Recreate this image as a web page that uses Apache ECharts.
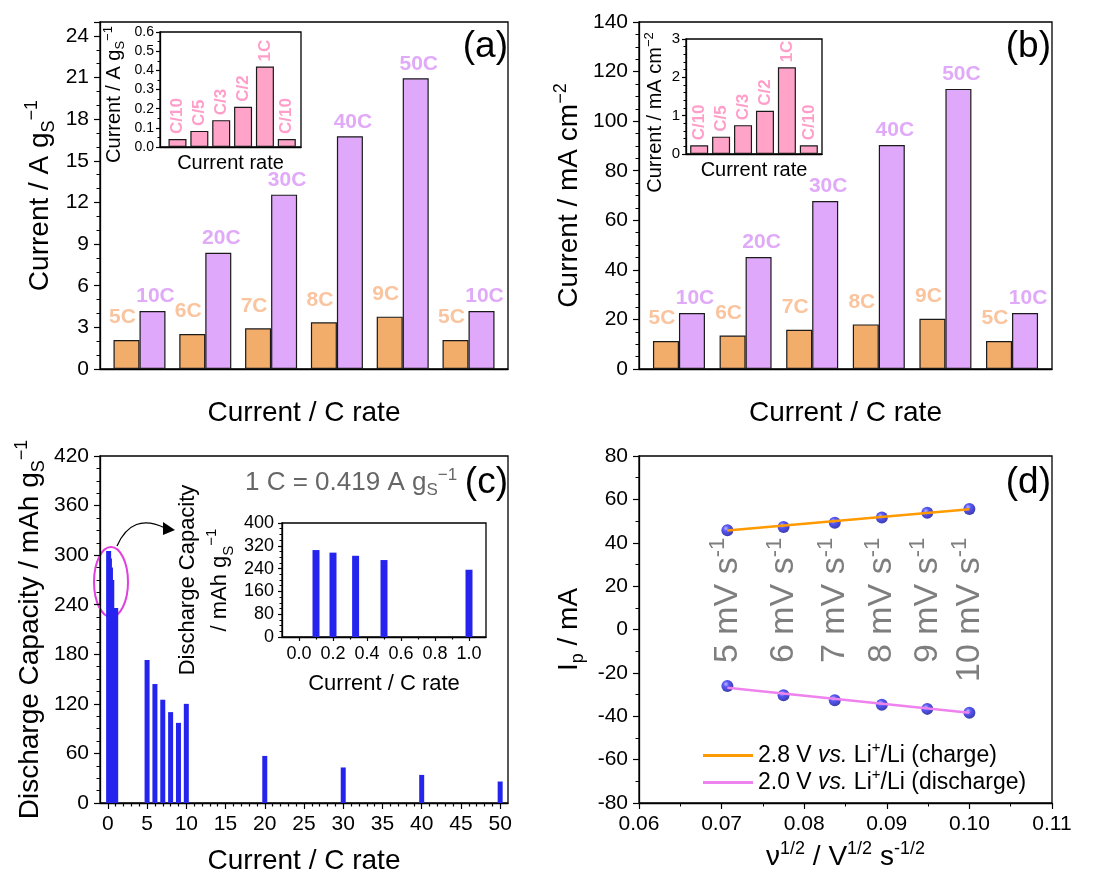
<!DOCTYPE html>
<html>
<head>
<meta charset="utf-8">
<script src="https://cdn.jsdelivr.net/npm/echarts@6/dist/echarts.min.js"></script>
<style>
html, body { margin: 0; padding: 0; background: #fff; }
#chart { width: 1095px; height: 870px; }
</style>
</head>
<body>
<div id="chart"></div>
<script>
// ---- data ----
const groupPos = [1, 2, 3, 4, 5, 6];
const lowRateLabels = ['5C', '6C', '7C', '8C', '9C', '5C'];
const highRateLabels = ['10C', '20C', '30C', '40C', '50C', '10C'];
const lowRateCurrentA = [2.09, 2.52, 2.93, 3.36, 3.77, 2.09];       // A g-1
const highRateCurrentA = [4.18, 8.38, 12.56, 16.77, 20.95, 4.18];
const lowRateCurrentB = [11.3, 13.5, 15.8, 18.0, 20.3, 11.3];       // mA cm-2
const highRateCurrentB = [22.6, 45.2, 67.8, 90.4, 113.0, 22.6];
const slowRateLabels = ['C/10', 'C/5', 'C/3', 'C/2', '1C', 'C/10'];
const slowCurrentA = [0.042, 0.084, 0.14, 0.21, 0.42, 0.042];
const slowCurrentB = [0.226, 0.452, 0.753, 1.13, 2.26, 0.226];

const cRate = [0.1, 0.2, 0.333, 0.5, 1, 5, 6, 7, 8, 9, 10, 20, 30, 40, 50];
const capacity = [305, 296, 285, 270, 236, 173, 144, 125, 110, 97, 120, 57, 43, 34, 26];

const sqrtScan = [0.0707, 0.0775, 0.0837, 0.0894, 0.0949, 0.1];
const chargePeak = [45.8, 47.3, 49.2, 51.6, 53.8, 55.6];
const dischargePeak = [-26.0, -30.3, -32.6, -34.7, -36.6, -38.4];
const scanRateLabels = ['5', '6', '7', '8', '9', '10'];
const fitX = [0.0707, 0.1];
const chargeFitY = [45.6, 55.4];
const dischargeFitY = [-26.9, -38.4];

const cTicksMajor = [0, 5, 10, 15, 20, 25, 30, 35, 40, 45, 50];
const cTicksMinor = [1, 2, 3, 4, 6, 7, 8, 9, 11, 12, 13, 14, 16, 17, 18, 19, 21, 22, 23, 24, 26, 27, 28, 29,
    31, 32, 33, 34, 36, 37, 38, 39, 41, 42, 43, 44, 46, 47, 48, 49];
const insetTicksMajor = [0, 0.2, 0.4, 0.6, 0.8, 1.0];
const insetTicksMinor = [0.1, 0.3, 0.5, 0.7, 0.9];

const chargeName = '2.8 V vs. Li+/Li (charge)';
const dischargeName = '2.0 V vs. Li+/Li (discharge)';

// ---- styling helpers ----
const FONT = 'Liberation Sans, Arial, sans-serif';
const ORANGE = '#F3AD6B', PURPLE = '#DFA8FA', PINK = '#FFA3C8', BLUE = '#2424EE';

function merge(a, b) {
    const out = Object.assign({}, a);
    for (const k in b) {
        if (b[k] && typeof b[k] === 'object' && !Array.isArray(b[k]) && a[k] && typeof a[k] === 'object') out[k] = merge(a[k], b[k]);
        else out[k] = b[k];
    }
    return out;
}

function rich(size, color) {
    const s = Math.round(size * 0.66);
    return {
        sub: { fontSize: s, lineHeight: s, verticalAlign: 'bottom', color: color, fontFamily: FONT },
        sup: { fontSize: s, lineHeight: s, verticalAlign: 'top', color: color, fontFamily: FONT },
        i: { fontSize: size, fontStyle: 'italic', color: color, fontFamily: FONT }
    };
}

const baseAxis = {
    type: 'value',
    splitLine: { show: false },
    axisLine: { show: true, onZero: false, lineStyle: { color: '#000', width: 1.3 } },
    axisTick: { show: true, length: 6, lineStyle: { color: '#000', width: 1.2 } },
    minorTick: { show: false, length: 3.5, lineStyle: { color: '#000', width: 1 } },
    axisLabel: { color: '#000', fontSize: 21, margin: 11, fontFamily: FONT },
    nameLocation: 'middle',
    nameTextStyle: { color: '#000', fontSize: 28, fontFamily: FONT, lineHeight: 35, rich: rich(28, '#000') }
};
const insetAxis = merge(baseAxis, {
    axisTick: { length: 4 },
    minorTick: { length: 2.5 },
    axisLabel: { fontSize: 14, margin: 6 },
    nameTextStyle: { fontSize: 20, lineHeight: 25, rich: rich(20, '#000') }
});
const ax = o => merge(baseAxis, o);
const ix = o => merge(insetAxis, o);

const frame = { show: true, borderColor: '#000', borderWidth: 1.3, outerBoundsMode: 'none' };

function barLabel(names, color, lift, shift) {
    return { show: true, position: 'top', distance: lift, offset: [shift, 0], formatter: p => names[p.dataIndex],
        color: color, fontSize: 21, fontWeight: 'bold', fontFamily: FONT };
}
function rotLabel(names) {
    return { show: true, position: 'top', distance: 5, rotate: 90, align: 'left', verticalAlign: 'middle',
        formatter: p => names[p.dataIndex], color: '#FF9EC9', fontSize: 17, fontWeight: 'bold', fontFamily: FONT };
}
const barBorder = { borderColor: '#1a1a1a', borderWidth: 1.2 };
const pts = (xs, ys) => xs.map((x, i) => [x, ys[i]]);

const sphere = {
    type: 'radial', x: 0.38, y: 0.35, r: 0.7,
    colorStops: [{ offset: 0, color: '#a8a8ff' }, { offset: 0.35, color: '#2c2cf0' }, { offset: 1, color: '#0a0a96' }]
};

const option = {
    animation: false,
    backgroundColor: '#fff',
    textStyle: { fontFamily: FONT },
    grid: [
        merge(frame, { left: 100, top: 22, width: 408, height: 347 }),   // a
        merge(frame, { left: 160, top: 32, width: 141, height: 115 }),   // a inset
        merge(frame, { left: 639, top: 22, width: 413, height: 347 }),   // b
        merge(frame, { left: 686, top: 39, width: 136, height: 115 }),   // b inset
        merge(frame, { left: 100, top: 456, width: 408, height: 347 }),  // c
        merge(frame, { left: 282, top: 523, width: 204, height: 114 }),  // c inset
        merge(frame, { left: 639, top: 456, width: 413, height: 347 })   // d
    ],
    xAxis: [
        ax({ gridIndex: 0, min: 0.4, max: 6.6, axisTick: { show: false }, axisLabel: { show: false },
            name: 'Current / C rate', nameGap: 27 }),
        ix({ gridIndex: 1, min: 0.2, max: 6.65, axisTick: { show: false }, axisLabel: { show: false },
            name: 'Current rate', nameGap: 4 }),
        ax({ gridIndex: 2, min: 0.4, max: 6.6, axisTick: { show: false }, axisLabel: { show: false },
            name: 'Current / C rate', nameGap: 27 }),
        ix({ gridIndex: 3, min: 0.4, max: 6.6, axisTick: { show: false }, axisLabel: { show: false },
            name: 'Current rate', nameGap: 4 }),
        ax({ gridIndex: 4, min: -1, max: 51, position: 'bottom',
            axisTick: { customValues: cTicksMajor }, axisLabel: { customValues: cTicksMajor },
            name: 'Current / C rate', nameGap: 41 }),
        ax({ gridIndex: 4, min: -1, max: 51, position: 'bottom', axisLine: { show: false },
            axisTick: { length: 3.5, customValues: cTicksMinor }, axisLabel: { show: false } }),
        ix({ gridIndex: 5, min: -0.1, max: 1.1, position: 'bottom',
            axisTick: { customValues: insetTicksMajor },
            axisLabel: { fontSize: 18, margin: 8, customValues: insetTicksMajor, formatter: v => v.toFixed(1) },
            name: 'Current / C rate', nameGap: 34, nameTextStyle: { fontSize: 22, rich: rich(22, '#000') } }),
        ix({ gridIndex: 5, min: -0.1, max: 1.1, position: 'bottom', axisLine: { show: false },
            axisTick: { length: 2.5, customValues: insetTicksMinor }, axisLabel: { show: false } }),
        ax({ gridIndex: 6, min: 0.06, max: 0.11, interval: 0.01, minorTick: { show: true, splitNumber: 2 },
            axisLabel: { formatter: v => v.toFixed(2) },
            name: 'ν{sup|1/2} / V{sup|1/2} s{sup|-1/2}', nameGap: 37 })
    ],
    yAxis: [
        ax({ gridIndex: 0, min: 0, max: 25, interval: 3, minorTick: { show: true, splitNumber: 3 },
            axisLabel: { showMaxLabel: false }, name: 'Current / A g{sub|S}{sup|−1}', nameGap: 42 }),
        ix({ gridIndex: 1, min: 0, max: 0.6, interval: 0.1, minorTick: { show: true, splitNumber: 2 },
            axisLabel: { formatter: v => v.toFixed(1) }, name: 'Current / A g{sub|S}{sup|−1}', nameGap: 33,
            nameTextStyle: { padding: [0, 10, 0, 0] } }),
        ax({ gridIndex: 2, min: 0, max: 140, interval: 20, minorTick: { show: true, splitNumber: 4 },
            name: 'Current / mA cm{sup|−2}', nameGap: 52 }),
        ix({ gridIndex: 3, min: 0, max: 3, interval: 1, minorTick: { show: true, splitNumber: 5 },
            axisLabel: { fontSize: 15 }, name: 'Current / mA cm{sup|−2}', nameGap: 18,
            nameTextStyle: { padding: [0, 32, 0, 0] } }),
        ax({ gridIndex: 4, min: 0, max: 420, interval: 60, minorTick: { show: true, splitNumber: 4 },
            name: 'Discharge Capacity / mAh g{sub|S}{sup|−1}', nameGap: 52 }),
        ix({ gridIndex: 5, min: 0, max: 400, interval: 80, minorTick: { show: true, splitNumber: 4 },
            axisLabel: { fontSize: 18, margin: 8 },
            name: 'Discharge Capacity\n/ mAh g{sub|S}{sup|−1}', nameGap: 46,
            nameTextStyle: { fontSize: 22, lineHeight: 32, rich: rich(22, '#000') } }),
        ax({ gridIndex: 6, min: -80, max: 80, interval: 20, minorTick: { show: true, splitNumber: 2 },
            name: 'I{sub|p} / mA', nameGap: 52 })
    ],
    legend: {
        data: [chargeName, dischargeName],
        orient: 'vertical', left: 698, top: 735,
        icon: 'rect', itemWidth: 50, itemHeight: 3, itemGap: 0,
        formatter: name => name === chargeName
            ? '{t|2.8 V }{i|vs.}{t| Li}{sup|+}{t|/Li (charge)}'
            : '{t|2.0 V }{i|vs.}{t| Li}{sup|+}{t|/Li (discharge)}',
        textStyle: {
            fontSize: 23, color: '#000', fontFamily: FONT,
            rich: Object.assign(rich(23, '#000'), {
                t: { fontSize: 23, lineHeight: 31, color: '#000', fontFamily: FONT },
                i: { fontSize: 23, lineHeight: 31, fontStyle: 'italic', color: '#000', fontFamily: FONT }
            })
        }
    },
    series: [
        { type: 'bar', xAxisIndex: 0, yAxisIndex: 0, barWidth: 26, barGap: '0%', data: pts(groupPos, lowRateCurrentA),
            itemStyle: merge(barBorder, { color: ORANGE }), label: barLabel(lowRateLabels, '#F9C49E', 12, -4) },
        { type: 'bar', xAxisIndex: 0, yAxisIndex: 0, barWidth: 26, barGap: '0%', data: pts(groupPos, highRateCurrentA),
            itemStyle: merge(barBorder, { color: PURPLE }), label: barLabel(highRateLabels, '#E0AAF8', 4, 3) },
        { type: 'bar', xAxisIndex: 1, yAxisIndex: 1, barWidth: 18, data: pts(groupPos, slowCurrentA),
            itemStyle: merge(barBorder, { color: PINK }), label: rotLabel(slowRateLabels) },
        { type: 'bar', xAxisIndex: 2, yAxisIndex: 2, barWidth: 26, barGap: '0%', data: pts(groupPos, lowRateCurrentB),
            itemStyle: merge(barBorder, { color: ORANGE }), label: barLabel(lowRateLabels, '#F9C49E', 12, -4) },
        { type: 'bar', xAxisIndex: 2, yAxisIndex: 2, barWidth: 26, barGap: '0%', data: pts(groupPos, highRateCurrentB),
            itemStyle: merge(barBorder, { color: PURPLE }), label: barLabel(highRateLabels, '#E0AAF8', 4, 3) },
        { type: 'bar', xAxisIndex: 3, yAxisIndex: 3, barWidth: 18, data: pts(groupPos, slowCurrentB),
            itemStyle: merge(barBorder, { color: PINK }), label: rotLabel(slowRateLabels) },
        { type: 'bar', xAxisIndex: 4, yAxisIndex: 4, barWidth: 5, data: pts(cRate, capacity),
            itemStyle: { color: BLUE } },
        { type: 'bar', xAxisIndex: 6, yAxisIndex: 5, barWidth: 7,
            data: pts(cRate, capacity).filter(d => d[0] <= 1), itemStyle: { color: BLUE } },
        { type: 'line', name: chargeName, xAxisIndex: 8, yAxisIndex: 6, data: pts(fitX, chargeFitY),
            symbol: 'none', lineStyle: { color: '#FF9A00', width: 2.5 }, itemStyle: { color: '#FF9A00' } },
        { type: 'line', name: dischargeName, xAxisIndex: 8, yAxisIndex: 6, data: pts(fitX, dischargeFitY),
            symbol: 'none', lineStyle: { color: '#EE82EE', width: 2.5 }, itemStyle: { color: '#EE82EE' } },
        { type: 'scatter', xAxisIndex: 8, yAxisIndex: 6, data: pts(sqrtScan, chargePeak), symbolSize: 12,
            itemStyle: { color: sphere } },
        { type: 'scatter', xAxisIndex: 8, yAxisIndex: 6, data: pts(sqrtScan, dischargePeak), symbolSize: 12,
            itemStyle: { color: sphere } },
        { type: 'scatter', xAxisIndex: 8, yAxisIndex: 6, data: sqrtScan.map(x => [x, 40]), symbolSize: 1,
            itemStyle: { color: 'transparent' }, silent: true,
            label: { show: true, position: 'inside', rotate: 90, align: 'right', verticalAlign: 'middle', offset: [5, 0],
                formatter: p => scanRateLabels[p.dataIndex] + ' mV s{sup|-1}',
                fontSize: 34, color: '#5e5e5e', fontFamily: FONT, lineHeight: 40, rich: rich(34, '#5e5e5e') } }
    ],
    graphic: [
        { type: 'text', x: 508, y: 47, style: { text: '(a)', fontSize: 37, fontFamily: FONT, fill: '#000', align: 'right', verticalAlign: 'middle', textAlign: 'right', textVerticalAlign: 'middle' } },
        { type: 'text', x: 1051, y: 47, style: { text: '(b)', fontSize: 37, fontFamily: FONT, fill: '#000', align: 'right', verticalAlign: 'middle', textAlign: 'right', textVerticalAlign: 'middle' } },
        { type: 'text', x: 508, y: 483, style: { text: '(c)', fontSize: 37, fontFamily: FONT, fill: '#000', align: 'right', verticalAlign: 'middle', textAlign: 'right', textVerticalAlign: 'middle' } },
        { type: 'text', x: 1051, y: 483, style: { text: '(d)', fontSize: 37, fontFamily: FONT, fill: '#000', align: 'right', verticalAlign: 'middle', textAlign: 'right', textVerticalAlign: 'middle' } },
        { type: 'text', x: 245, y: 483, style: { text: '1 C = 0.419 A g{sub|S}{sup|−1}', fontSize: 26, fontFamily: FONT, fill: '#666',
            lineHeight: 32, verticalAlign: 'middle', textVerticalAlign: 'middle', rich: rich(26, '#666') } },
        { type: 'ellipse', shape: { cx: 111, cy: 582, rx: 17, ry: 35 }, style: { fill: 'none', stroke: '#E040E0', lineWidth: 2 } },
        { type: 'bezierCurve', shape: { x1: 117, y1: 546, cpx1: 132, cpy1: 512, x2: 165, y2: 528 }, style: { fill: 'none', stroke: '#000', lineWidth: 1.3 } },
        { type: 'polygon', shape: { points: [[175, 530], [163, 522], [163, 535]] }, style: { fill: '#000' } }
    ]
};

const chart = echarts.init(document.getElementById('chart'));
chart.setOption(option);
</script>
</body>
</html>
